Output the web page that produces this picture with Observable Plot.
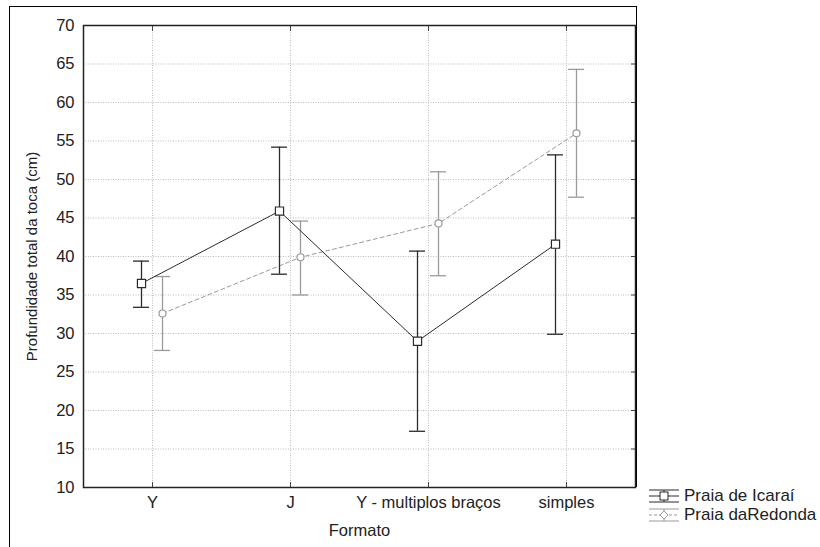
<!DOCTYPE html>
<html><head><meta charset="utf-8">
<script src="https://cdn.jsdelivr.net/npm/d3@7"></script>
<script src="https://cdn.jsdelivr.net/npm/@observablehq/plot@0.6"></script>
<style>
body{margin:0;background:#fff;font-family:"Liberation Sans",Arial,sans-serif;overflow:hidden;}
#wrap{position:relative;width:820px;height:547px;overflow:hidden;}
#box{position:absolute;left:9px;top:6px;width:626px;height:480px;border-top:1.5px solid #000;border-left:1.5px solid #000;border-right:1.5px solid #000;}
#boxl{position:absolute;left:9px;top:480px;width:0;height:67px;border-left:1.5px solid #000;}
#legend{position:absolute;left:648px;top:486px;width:200px;font-size:17px;color:#222;line-height:19px;white-space:nowrap;}
#legend div{display:flex;align-items:center;white-space:nowrap;}
#legend svg{margin-right:4px;flex:none;}
</style></head>
<body><div id="wrap"><div id="box"></div><div id="boxl"></div><div id="chart"></div>
<div id="legend"></div></div>
<script>
const formatos = ["Y", "J", "Y - multiplos braços", "simples"];
const series = ["Praia de Icaraí", "Praia daRedonda"];
const icaraiMean = [36.5, 45.9, 29.0, 41.6];
const icaraiLow  = [33.4, 37.7, 17.3, 29.9];
const icaraiHigh = [39.4, 54.2, 40.7, 53.2];
const redondaMean = [32.6, 39.9, 44.3, 56.0];
const redondaLow  = [27.8, 35.0, 37.5, 47.7];
const redondaHigh = [37.4, 44.6, 51.0, 64.3];
const yTicks = [10,15,20,25,30,35,40,45,50,55,60,65,70];

const ic = formatos.map((f,i)=>({f, m:icaraiMean[i], lo:icaraiLow[i], hi:icaraiHigh[i]}));
const rd = formatos.map((f,i)=>({f, m:redondaMean[i], lo:redondaLow[i], hi:redondaHigh[i]}));

const cI = "#2b2b2b", cR = "#9a9a9a";
const dI = -11, dR = 10;

const chart = Plot.plot({
  width: 820, height: 547,
  marginLeft: 83, marginRight: 185, marginTop: 25, marginBottom: 60,
  style: {fontFamily: '"Liberation Sans", Arial, sans-serif', fontSize: "16px", color: "#222", background: "transparent"},
  x: {type: "band", domain: formatos, padding: 0},
  y: {domain: [10, 70], ticks: yTicks},
  marks: [
    Plot.gridY(yTicks, {stroke: "#bbb", strokeOpacity: 1, strokeDasharray: "1,1.5", strokeWidth: 1}),
    Plot.gridX(formatos, {stroke: "#bbb", strokeOpacity: 1, strokeDasharray: "1,1.5", strokeWidth: 1}),
    Plot.axisY(yTicks, {anchor: "left", tickSize: 0, tickPadding: 9, fontSize: 16.5, label: null}),
    Plot.axisY(yTicks, {anchor: "left", tickSize: 0, tickFormat: () => "", fontSize: 15, label: "Profundidade total da toca (cm)", labelAnchor: "center", labelOffset: 57, labelArrow: "none"}),
    Plot.axisY(yTicks, {anchor: "right", tickSize: -5, tickFormat: () => "", label: null, stroke: "#444"}),
    Plot.axisX(formatos, {anchor: "bottom", tickSize: 0, tickPadding: 9, fontSize: 16.5, label: null}),
    Plot.axisX(formatos, {anchor: "bottom", tickSize: 0, tickFormat: () => "", fontSize: 16.5, label: "Formato", labelAnchor: "center", labelOffset: 48, labelArrow: "none"}),
    Plot.axisX(formatos, {anchor: "bottom", tickSize: -5, tickFormat: () => "", label: null, stroke: "#444"}),
    Plot.axisX(formatos, {anchor: "top", tickSize: -5, tickFormat: () => "", label: null, stroke: "#444"}),
    // Redonda
    Plot.line(rd, {x: "f", y: "m", dx: dR, stroke: cR, strokeWidth: 1, strokeDasharray: "4,3"}),
    Plot.ruleX(rd, {x: "f", y1: "lo", y2: "hi", dx: dR, stroke: cR, strokeWidth: 1.3}),
    Plot.tickY(rd, {x: "f", y: "lo", dx: dR, inset: 61, stroke: cR, strokeWidth: 1.3}),
    Plot.tickY(rd, {x: "f", y: "hi", dx: dR, inset: 61, stroke: cR, strokeWidth: 1.3}),
    Plot.dot(rd, {x: "f", y: "m", dx: dR, r: 3.5, fill: "white", stroke: cR, strokeWidth: 1.2}),
    // Icaraí
    Plot.line(ic, {x: "f", y: "m", dx: dI, stroke: cI, strokeWidth: 1}),
    Plot.ruleX(ic, {x: "f", y1: "lo", y2: "hi", dx: dI, stroke: cI, strokeWidth: 1.3}),
    Plot.tickY(ic, {x: "f", y: "lo", dx: dI, inset: 61, stroke: cI, strokeWidth: 1.3}),
    Plot.tickY(ic, {x: "f", y: "hi", dx: dI, inset: 61, stroke: cI, strokeWidth: 1.3}),
    Plot.dot(ic, {x: "f", y: "m", dx: dI, symbol: "square", r: 4.6, fill: "white", stroke: cI, strokeWidth: 1.2}),
    Plot.frame({stroke: "#222", strokeWidth: 1.5})
  ]
});
document.getElementById("chart").appendChild(chart);

const lg = document.getElementById("legend");
lg.innerHTML = `
<div><svg width="32" height="16"><line x1="1" x2="31" y1="2" y2="2" stroke="${cI}"/><line x1="1" x2="31" y1="14" y2="14" stroke="${cI}"/><line x1="1" x2="31" y1="8" y2="8" stroke="${cI}"/><line x1="16" x2="16" y1="2" y2="14" stroke="${cI}"/><rect x="12" y="4" width="8" height="8" fill="white" stroke="${cI}"/></svg>${series[0]}</div>
<div><svg width="32" height="16"><line x1="1" x2="31" y1="2" y2="2" stroke="${cR}"/><line x1="1" x2="31" y1="14" y2="14" stroke="${cR}"/><line x1="1" x2="31" y1="8" y2="8" stroke="${cR}" stroke-dasharray="3,2"/><line x1="16" x2="16" y1="2" y2="14" stroke="${cR}"/><path d="M16,4L20,8L16,12L12,8Z" fill="white" stroke="${cR}"/></svg>${series[1]}</div>`;
</script></body></html>
